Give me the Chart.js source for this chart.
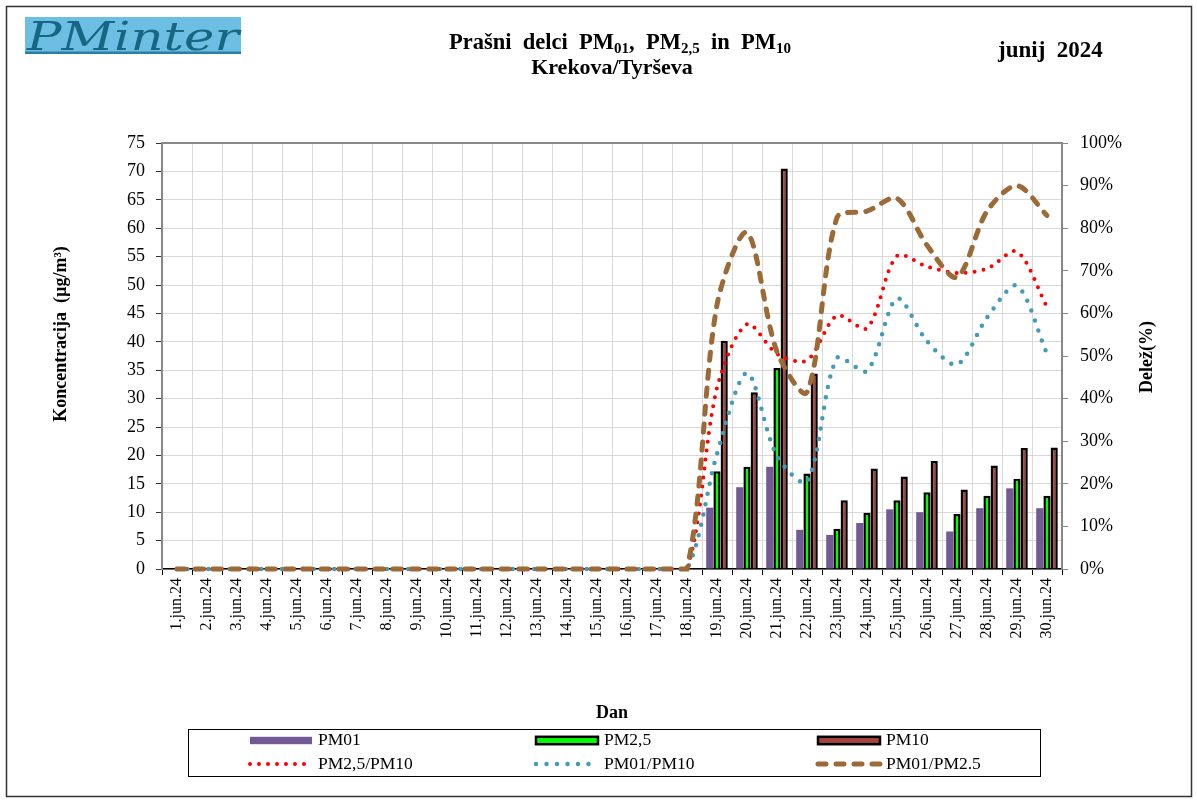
<!DOCTYPE html>
<html>
<head>
<meta charset="utf-8">
<script src="https://cdn.jsdelivr.net/npm/chart.js@4.4.1/dist/chart.umd.min.js"></script>
<style>
html, body { margin: 0; padding: 0; background: #fff; }
#Wrap { width: 1197px; height: 802px; }
</style>
</head>
<body>
<div id="Wrap"><canvas id="PmChart" width="1197" height="802"></canvas></div>
<script>
let Days = ['1.jun.24', '2.jun.24', '3.jun.24', '4.jun.24', '5.jun.24', '6.jun.24', '7.jun.24', '8.jun.24', '9.jun.24', '10.jun.24',
    '11.jun.24', '12.jun.24', '13.jun.24', '14.jun.24', '15.jun.24', '16.jun.24', '17.jun.24', '18.jun.24', '19.jun.24', '20.jun.24',
    '21.jun.24', '22.jun.24', '23.jun.24', '24.jun.24', '25.jun.24', '26.jun.24', '27.jun.24', '28.jun.24', '29.jun.24', '30.jun.24']

// concentrations, ug/m3
let PM01 = [0, 0, 0, 0, 0, 0, 0, 0, 0, 0, 0, 0, 0, 0, 0, 0, 0, 0, 10.8, 14.4, 18.0, 6.9, 6.0, 8.1, 10.5, 10.0, 6.6, 10.7, 14.2, 10.7]
let PM25 = [0, 0, 0, 0, 0, 0, 0, 0, 0, 0, 0, 0, 0, 0, 0, 0, 0, 0, 17.2, 18.0, 35.4, 16.8, 7.1, 9.9, 12.1, 13.5, 9.7, 12.9, 15.9, 12.9]
let PM10 = [0, 0, 0, 0, 0, 0, 0, 0, 0, 0, 0, 0, 0, 0, 0, 0, 0, 0, 40.2, 31.1, 70.5, 34.4, 12.1, 17.7, 16.3, 19.0, 14.0, 18.2, 21.3, 21.4]

// shares, %
let Ratio25to10 = [0, 0, 0, 0, 0, 0, 0, 0, 0, 0, 0, 0, 0, 0, 0, 0, 0, 0, 42.5, 57.5, 50.5, 49, 59.5, 56.5, 73.5, 71, 69.5, 70.5, 74.5, 61.5]
let Ratio01to10 = [0, 0, 0, 0, 0, 0, 0, 0, 0, 0, 0, 0, 0, 0, 0, 0, 0, 0, 27, 46, 26.5, 20.5, 49.5, 46.5, 63.5, 53.5, 48, 59, 66.5, 50.5]
let Ratio01to25 = [0, 0, 0, 0, 0, 0, 0, 0, 0, 0, 0, 0, 0, 0, 0, 0, 0, 0, 62, 79, 51, 41.5, 82.5, 84, 87, 76, 68.5, 84, 90, 83]

let LeftTicks = [0, 5, 10, 15, 20, 25, 30, 35, 40, 45, 50, 55, 60, 65, 70, 75]
let RightTicks = [0, 10, 20, 30, 40, 50, 60, 70, 80, 90, 100]

const Serif = "'Liberation Serif', 'Times New Roman', serif"
Chart.defaults.font.family = Serif
Chart.defaults.color = '#000'

function DrawTitleLine(ctx, parts, centerX, baseY) {
    let total = 0
    for (let p of parts) {
        ctx.font = 'bold ' + p[1] + 'px ' + Serif
        p.w = ctx.measureText(p[0]).width
        total += p.w
    }
    let x = centerX - total / 2
    ctx.textAlign = 'left'
    ctx.textBaseline = 'alphabetic'
    for (let p of parts) {
        ctx.font = 'bold ' + p[1] + 'px ' + Serif
        ctx.fillText(p[0], x, baseY + p[2])
        x += p.w
    }
}

const Decor = {
    id: 'decor',
    beforeDraw(chart) {
        let ctx = chart.ctx
        ctx.save()
        ctx.fillStyle = '#fff'
        ctx.fillRect(0, 0, chart.width, chart.height)
        ctx.restore()
    },
    afterDraw(chart) {
        let ctx = chart.ctx
        let area = chart.chartArea
        ctx.save()

        // plot area top border
        ctx.strokeStyle = '#888'
        ctx.lineWidth = 2
        ctx.beginPath()
        ctx.moveTo(area.left, area.top)
        ctx.lineTo(area.right, area.top)
        ctx.stroke()

        // outer frame
        ctx.strokeStyle = '#333'
        ctx.lineWidth = 1.5
        ctx.strokeRect(6.5, 6.5, 1185, 790)

        // logo
        ctx.fillStyle = '#6cbfe2'
        ctx.fillRect(25, 17, 216, 37)
        ctx.fillStyle = '#2a7fa6'
        ctx.fillRect(25, 51.5, 216, 2.5)
        ctx.font = 'italic 40px "DejaVu Serif", serif'
        ctx.fillStyle = '#176684'
        ctx.textBaseline = 'alphabetic'
        ctx.textAlign = 'left'
        let lw = ctx.measureText('PMinter').width
        ctx.save()
        ctx.translate(27, 50)
        ctx.scale(212 / lw, 1)
        ctx.fillText('PMinter', 0, 0)
        ctx.restore()

        // titles
        ctx.fillStyle = '#000'
        DrawTitleLine(ctx, [['Prašni  delci  PM', 22.5, 0], ['01', 15, 4], [',  PM', 22.5, 0], ['2,5', 15, 4], ['  in  PM', 22.5, 0], ['10', 15, 4]], 620, 49)
        DrawTitleLine(ctx, [['Krekova/Tyrševa', 22, 0]], 612, 74)
        ctx.font = 'bold 23px ' + Serif
        ctx.textAlign = 'left'
        ctx.fillText('junij  2024', 998, 57)

        // axis titles
        ctx.font = 'bold 18px ' + Serif
        ctx.textAlign = 'center'
        ctx.textBaseline = 'middle'
        ctx.fillText('Dan', 612, 713)
        ctx.save()
        ctx.translate(61, 334)
        ctx.rotate(-Math.PI / 2)
        ctx.fillText('Koncentracija  (µg/m³)', 0, 0)
        ctx.restore()
        ctx.save()
        ctx.translate(1147, 357)
        ctx.rotate(-Math.PI / 2)
        ctx.fillText('Delež(%)', 0, 0)
        ctx.restore()

        // legend
        ctx.strokeStyle = '#000'
        ctx.lineWidth = 1
        ctx.strokeRect(188.5, 729.5, 852, 47)
        let cols = [250, 536, 818]
        let rows = [740.5, 764]
        chart.data.datasets.forEach((ds, i) => {
            let x = cols[i % 3]
            let y = rows[Math.floor(i / 3)]
            if (ds.type === 'bar') {
                ctx.fillStyle = ds.backgroundColor
                ctx.fillRect(x, y - 3.7, 62, 7.4)
                if (ds.borderWidth) {
                    ctx.strokeStyle = ds.borderColor
                    ctx.lineWidth = 2.5
                    ctx.strokeRect(x, y - 3.7, 62, 7.4)
                }
            } else {
                ctx.save()
                ctx.strokeStyle = ds.borderColor
                ctx.lineWidth = ds.borderWidth
                ctx.lineCap = ds.borderCapStyle
                ctx.setLineDash(ds.borderDash)
                ctx.beginPath()
                ctx.moveTo(x, y)
                ctx.lineTo(x + 62, y)
                ctx.stroke()
                ctx.restore()
            }
            ctx.fillStyle = '#000'
            ctx.font = '17.5px ' + Serif
            ctx.textAlign = 'left'
            ctx.textBaseline = 'middle'
            ctx.fillText(ds.label, x + 68, y)
        })
        ctx.restore()
    }
}

let Canvas = document.getElementById('PmChart')
let PmChart = new Chart(Canvas, {
    type: 'bar',
    data: {
        labels: Days,
        datasets: [
            { type: 'bar', label: 'PM01', data: PM01, backgroundColor: '#735a94', borderWidth: 0, yAxisID: 'y', order: 2 },
            { type: 'bar', label: 'PM2,5', data: PM25, backgroundColor: '#00ff00', borderColor: '#000', borderWidth: 2.5, yAxisID: 'y', order: 2 },
            { type: 'bar', label: 'PM10', data: PM10, backgroundColor: '#a5433f', borderColor: '#000', borderWidth: 2.5, yAxisID: 'y', order: 2 },
            { type: 'line', label: 'PM2,5/PM10', data: Ratio25to10, borderColor: '#ff0000', borderWidth: 4, borderDash: [0, 9], borderCapStyle: 'round',
                pointRadius: 0, tension: 0.3, yAxisID: 'y1', order: 1, clip: 8 },
            { type: 'line', label: 'PM01/PM10', data: Ratio01to10, borderColor: '#439bb6', borderWidth: 4.5, borderDash: [0, 10.5], borderCapStyle: 'round',
                pointRadius: 0, tension: 0.3, yAxisID: 'y1', order: 1, clip: 8 },
            { type: 'line', label: 'PM01/PM2.5', data: Ratio01to25, borderColor: '#9c6a36', borderWidth: 5, borderDash: [8, 10], borderCapStyle: 'round',
                pointRadius: 0, tension: 0.3, yAxisID: 'y1', order: 0, clip: 8 }
        ]
    },
    options: {
        responsive: false,
        animation: false,
        layout: { padding: { top: 143, left: 0, right: 0, bottom: 0 } },
        datasets: { bar: { categoryPercentage: 0.72, barPercentage: 1.0 } },
        plugins: {
            legend: { display: false },
            title: { display: false },
            tooltip: { enabled: false }
        },
        scales: {
            x: {
                grid: { color: '#d9d9d9', offset: true, tickColor: '#000', tickLength: 6 },
                border: { color: '#000', width: 1.5 },
                ticks: { autoSkip: false, maxRotation: 90, minRotation: 90, padding: 3, font: { size: 16 } },
                afterFit(scale) { scale.height = 802 - 569 }
            },
            y: {
                position: 'left',
                min: 0,
                max: 75,
                afterBuildTicks(scale) { scale.ticks = LeftTicks.map(v => ({ value: v })) },
                ticks: { padding: 11, font: { size: 18 } },
                grid: { color: '#d9d9d9', tickColor: '#333', tickLength: 6 },
                border: { color: '#888', width: 2 },
                afterFit(scale) { scale.width = 162 }
            },
            y1: {
                position: 'right',
                min: 0,
                max: 100,
                afterBuildTicks(scale) { scale.ticks = RightTicks.map(v => ({ value: v })) },
                ticks: { padding: 12, font: { size: 18 }, callback: v => v + '%' },
                grid: { drawOnChartArea: false, tickColor: '#888', tickLength: 6 },
                border: { color: '#888', width: 2 },
                afterFit(scale) { scale.width = 1197 - 1062 }
            }
        }
    },
    plugins: [Decor]
})
</script>
</body>
</html>
